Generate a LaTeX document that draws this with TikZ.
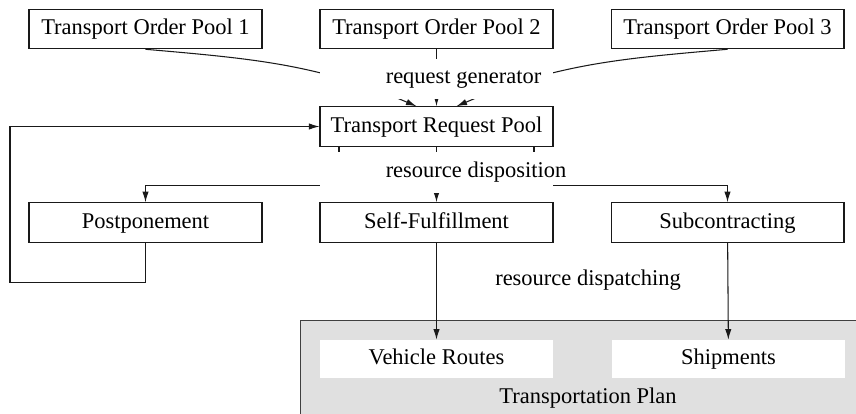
\documentclass[tikz,border=0pt]{standalone}
\usepackage{fontspec}
\setmainfont{Liberation Serif}
\usetikzlibrary{arrows.meta}

\tikzset{
	pool/.style={draw=black!90, line width=0.6pt, fill=white, minimum width=4.66cm, minimum height=0.79cm, inner sep=0pt, text height=9pt, text depth=2.5pt},
	result/.style={fill=white, minimum width=4.66cm, minimum height=0.76cm, inner sep=0pt, text height=9pt, text depth=2.5pt},
	planbox/.style={draw=black!75, line width=0.6pt, fill=black!12, anchor=north west, minimum width=11.4cm, minimum height=2cm},
	mask/.style={fill=white, minimum width=4.66cm, inner sep=0pt},
	lbl/.style={anchor=base, inner sep=0pt},
	flow/.style={draw=black!90, line width=0.6pt, ->},
}

\begin{document}
\begin{tikzpicture}[x=0.02cm, y=-0.02cm, >={Latex[length=6pt,width=3.6pt]},
	font=\fontsize{12.8pt}{15pt}\selectfont]
	\useasboundingbox (0,0) rectangle (856,413);
	% Pools
	\node[pool] (p1) at (145.5,29) {Transport Order Pool 1};
	\node[pool] (p2) at (436.5,29) {Transport Order Pool 2};
	\node[pool] (p3) at (727.5,29) {Transport Order Pool 3};
	\node[pool] (req) at (436.5,126.5) {Transport Request Pool};
	% Dispositions
	\node[pool] (post) at (145.5,222.5) {Postponement};
	\node[pool] (self) at (436.5,222.5) {Self-Fulfillment};
	\node[pool] (sub) at (727.5,222.5) {Subcontracting};
	% Transportation plan
	\node[planbox] (plan) at (300,320) {};
	\node[result] (routes) at (436.5,359) {Vehicle Routes};
	\node[result] (ship) at (728.5,359) {Shipments};
	\node[lbl] (plantxt) at (588,403) {Transportation Plan};
	% request generator
	\draw[flow] (p1.south) to[out=-5, in=157] ([xshift=-0.4cm]req.north);
	\draw[flow] (p2) -- (req);
	\draw[flow] (p3.south) to[out=185, in=23] ([xshift=0.4cm]req.north);
	% resource disposition
	\draw[flow] ([xshift=-1.95cm]req.south) -- ++(0,39) -| (post.north);
	\draw[flow] (req) -- (self);
	\draw[flow] ([xshift=1.95cm]req.south) -- ++(0,39) -| (sub.north);
	\draw[flow] (post.south) -- ++(0,40) -- ++(-135.5,0) |- (req.west);
	% resource dispatching
	\draw[flow] (self) -- (routes);
	\draw[flow] (sub) -- (ship);
	% labels
	\node[mask, minimum height=0.8cm] (genmask) at (436.5,79) {};
	\node[lbl] (gen) at (463.5,83) {request generator};
	\node[mask, minimum height=0.82cm] (dispmask) at (436.5,172) {};
	\node[lbl] (disp) at (476,177) {resource disposition};
	\node[lbl] (dispatch) at (588,285) {resource dispatching};
\end{tikzpicture}
\end{document}
